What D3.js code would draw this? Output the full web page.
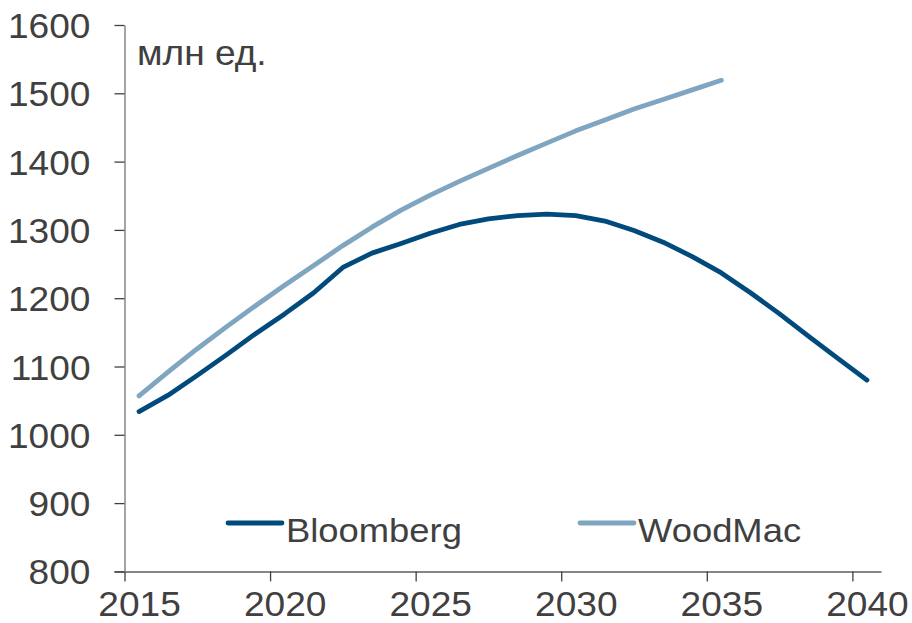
<!DOCTYPE html>
<html>
<head>
<meta charset="utf-8">
<script src="https://cdn.jsdelivr.net/npm/d3@7"></script>
<style>
  body { margin: 0; background: #fff; }
  text { font-family: "Liberation Sans", Arial, sans-serif; fill: #404040; }
</style>
</head>
<body>
<script>
const width = 912;
const height = 623;
const margin = {top: 25, right: 30.5, bottom: 51.6, left: 124.5};

// data
const years = [2015, 2016, 2017, 2018, 2019, 2020, 2021, 2022, 2023, 2024, 2025, 2026, 2027,
               2028, 2029, 2030, 2031, 2032, 2033, 2034, 2035, 2036, 2037, 2038, 2039, 2040];
const bloomberg = [1034, 1058, 1087, 1117, 1148, 1177, 1208, 1245, 1266, 1280, 1295, 1308, 1316,
                   1321, 1323, 1321, 1313, 1299, 1282, 1261, 1237, 1208, 1177, 1144, 1112, 1080];
const woodmac = [1057, 1092, 1126, 1158, 1189, 1219, 1248, 1277, 1304, 1329, 1351, 1371, 1390,
                 1409, 1427, 1445, 1461, 1477, 1491, 1505, 1519];
const xTicks = [2015, 2020, 2025, 2030, 2035, 2040];
const yTicks = [800, 900, 1000, 1100, 1200, 1300, 1400, 1500, 1600];
const unitLabel = "млн ед.";
const seriesNames = ["Bloomberg", "WoodMac"];
const colors = ["#004a7c", "#7fa5c1"];

// category axis: each year is a slot, ticks sit on slot boundaries
const x = d3.scaleLinear()
    .domain([years[0], years[years.length - 1] + 1])
    .range([margin.left, width - margin.right]);
const half = (x(2016) - x(2015)) / 2;

const y = d3.scaleLinear()
    .domain([800, 1600])
    .range([height - margin.bottom, margin.top]);

const svg = d3.select("body").append("svg")
    .attr("width", width)
    .attr("height", height);

const fs = 35;
const sx = 1.06; // labels in the picture are a bit wider than the font

// x axis
svg.append("g")
    .attr("transform", `translate(0,${height - margin.bottom})`)
    .call(d3.axisBottom(x).tickValues(xTicks).tickSize(10).tickSizeOuter(0).tickFormat(d3.format("d")))
    .call(g => g.select(".domain").attr("stroke", "#868686").attr("stroke-width", 2)
        .attr("d", `M${margin.left - 10},0.5H${width - margin.right}`))
    .call(g => g.selectAll(".tick line").attr("stroke", "#404040").attr("stroke-width", 1.3))
    .call(g => g.selectAll(".tick text")
        .attr("fill", null)
        .attr("y", null).attr("dy", null)
        .attr("transform", `translate(${half},45) scale(${sx},1)`)
        .attr("font-size", fs));

// y axis
svg.append("g")
    .attr("transform", `translate(${margin.left},0)`)
    .call(d3.axisLeft(y).tickValues(yTicks).tickSize(10).tickSizeOuter(0).tickFormat(d3.format("d")))
    .call(g => g.select(".domain").attr("stroke", "#868686").attr("stroke-width", 1.5))
    .call(g => g.selectAll(".tick line").attr("stroke", "#404040").attr("stroke-width", 1.3))
    .call(g => g.selectAll(".tick text")
        .attr("fill", null)
        .attr("x", null).attr("dy", null)
        .attr("transform", `translate(-34,12.5) scale(${sx},1)`)
        .attr("font-size", fs));

svg.append("text")
    .attr("transform", `translate(137,65) scale(${sx},1)`)
    .attr("font-size", fs)
    .text(unitLabel);

// lines
const line = d3.line()
    .x((d, i) => x(years[i] + 0.5))
    .y(d => y(d));

[bloomberg, woodmac].forEach((s, k) => {
  svg.append("path")
      .datum(s)
      .attr("fill", "none")
      .attr("stroke", colors[k])
      .attr("stroke-width", 4.8)
      .attr("stroke-linejoin", "round")
      .attr("stroke-linecap", "round")
      .attr("d", line);
});

// legend
const legendX = [228, 580];
seriesNames.forEach((name, k) => {
  const lg = svg.append("g").attr("transform", `translate(${legendX[k]},523)`);
  lg.append("line")
      .attr("x1", 0).attr("x2", 54)
      .attr("stroke", colors[k])
      .attr("stroke-width", 4.8)
      .attr("stroke-linecap", "round");
  lg.append("text")
      .attr("transform", `translate(58,18.5) scale(1.07,1)`)
      .attr("font-size", 34)
      .text(name);
});
</script>
</body>
</html>
